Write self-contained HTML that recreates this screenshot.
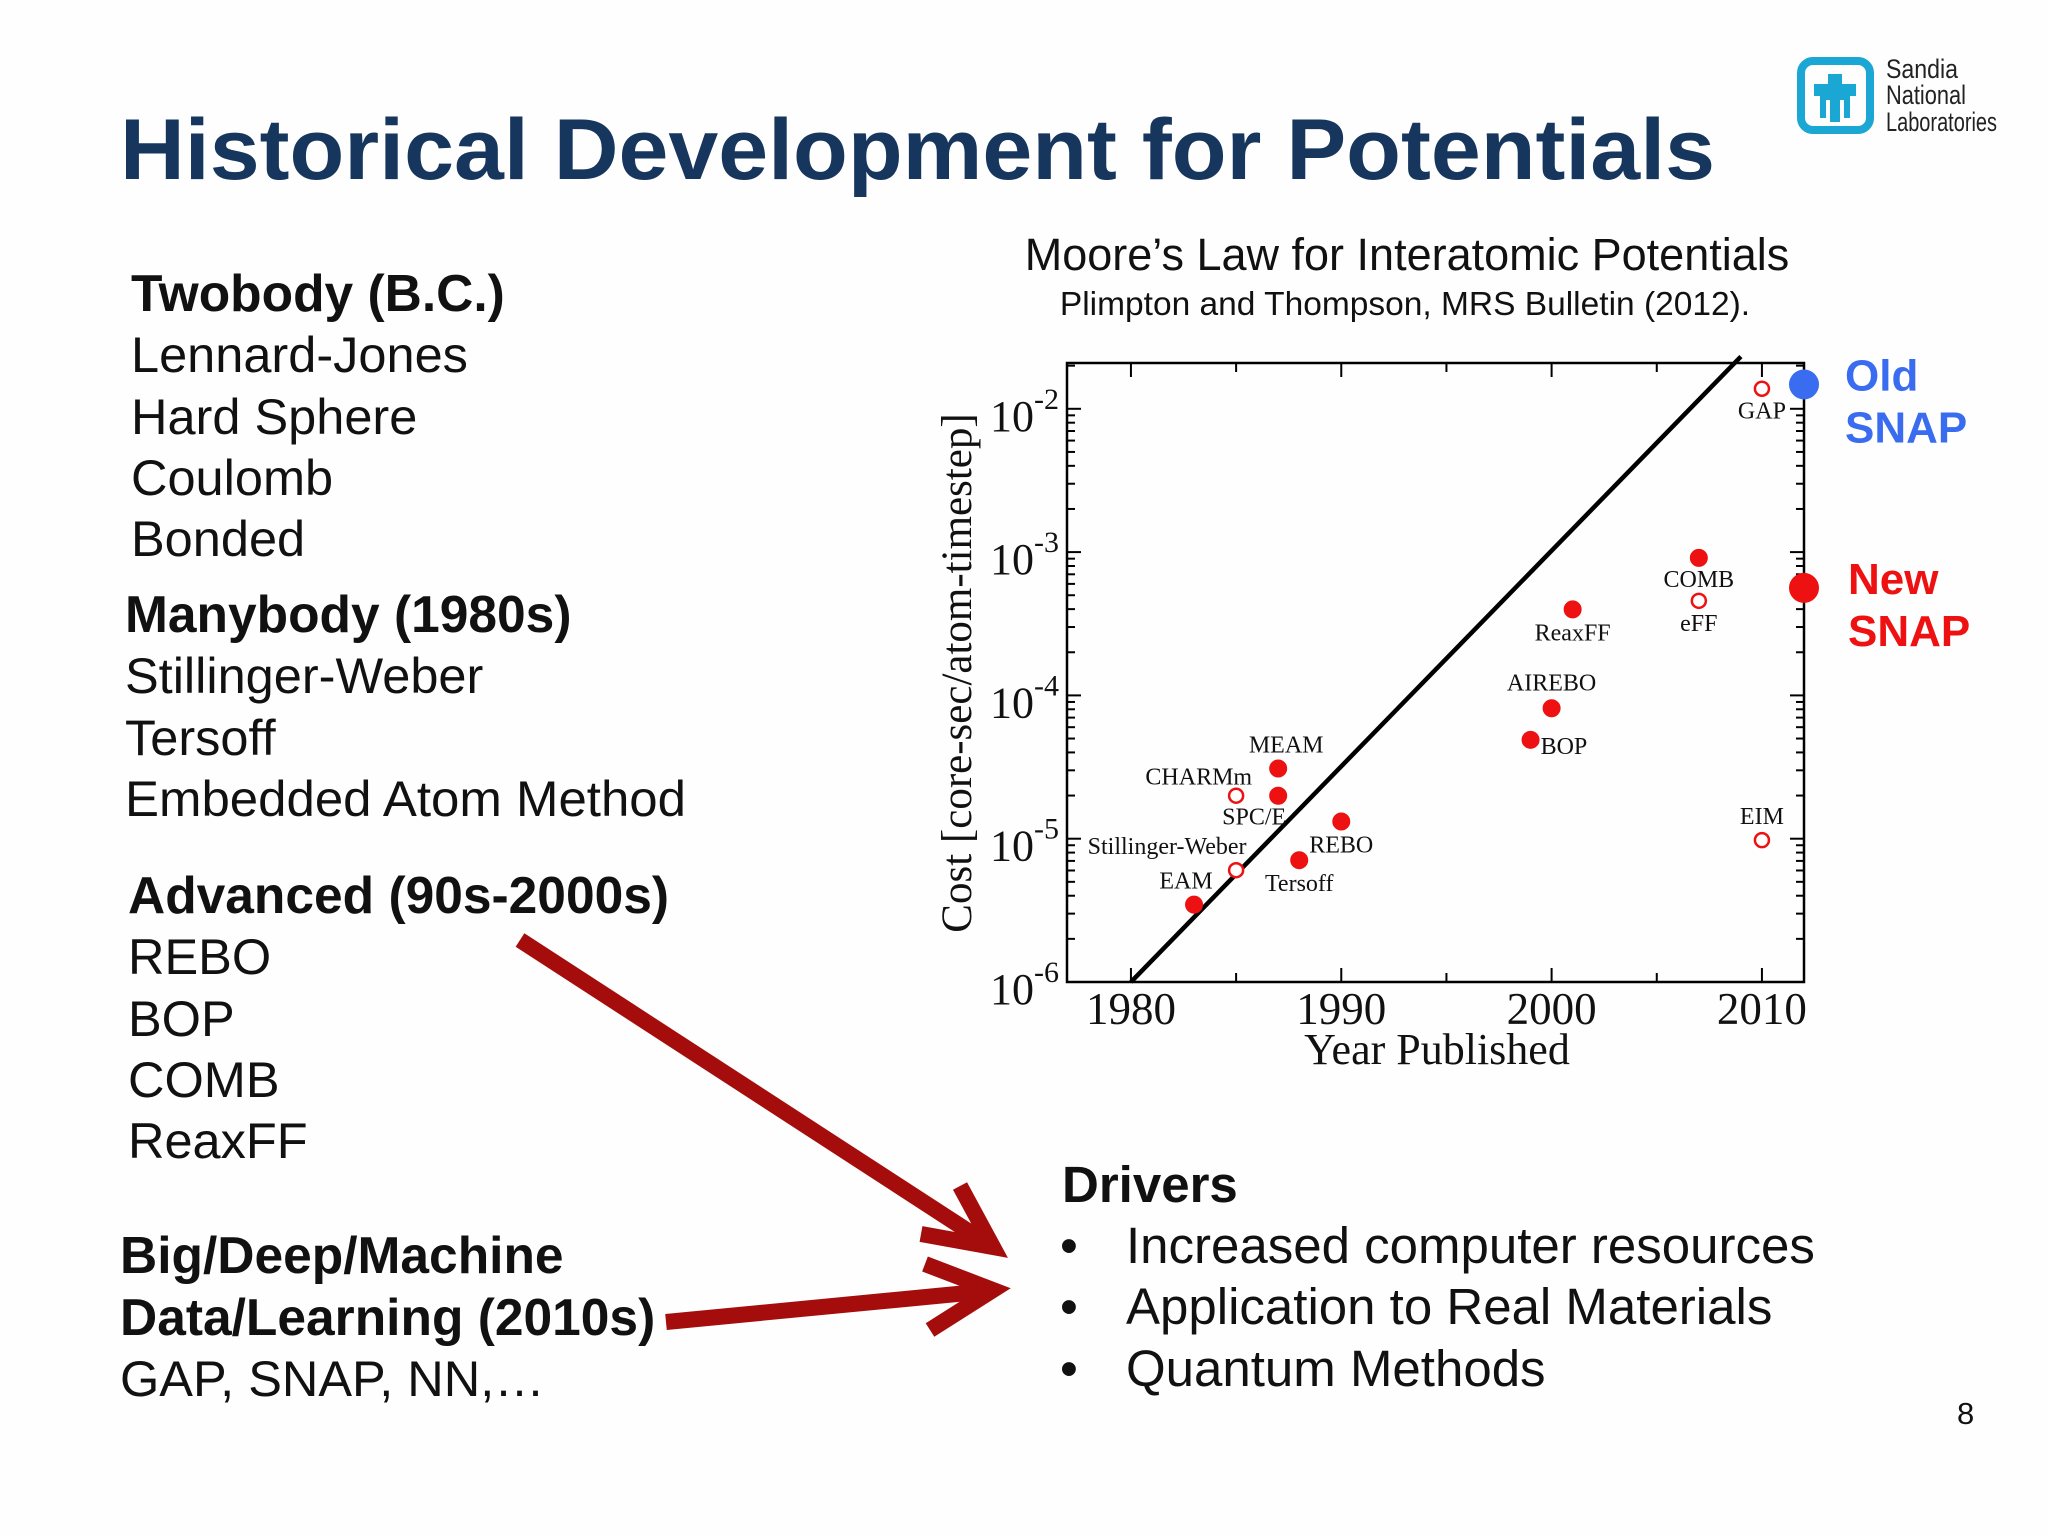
<!DOCTYPE html>
<html><head><meta charset="utf-8"><style>
html,body{margin:0;padding:0;background:#fff;}
svg{display:block;}
</style></head><body>
<svg id="slide" width="2048" height="1536" viewBox="0 0 2048 1536" xmlns="http://www.w3.org/2000/svg">
<rect width="2048" height="1536" fill="#fefefe"/>
<text x="120" y="179" font-family="Liberation Sans, sans-serif" font-weight="bold" font-size="86" fill="#17365d" textLength="1595" lengthAdjust="spacingAndGlyphs">Historical Development for Potentials</text>

<g>
<rect x="1801" y="61" width="69" height="69" rx="12" fill="none" stroke="#1ba7d4" stroke-width="8"/>
<path d="M1828 74 h14 v10 h14 v12 h-6 v22 h-6 v-18 h-4 v22 h-10 v-22 h-4 v18 h-6 v-22 h-6 v-12 h14 z" fill="#1ba7d4"/>
<g font-family="Liberation Sans, sans-serif" font-size="27" fill="#222">
<text x="1886" y="78" textLength="72" lengthAdjust="spacingAndGlyphs">Sandia</text>
<text x="1886" y="104" textLength="80" lengthAdjust="spacingAndGlyphs">National</text>
<text x="1886" y="131" textLength="111" lengthAdjust="spacingAndGlyphs">Laboratories</text>
</g></g>

<g font-family="Liberation Sans, sans-serif" font-size="50.5" fill="#111">
<text x="131" y="311" font-weight="bold" font-size="51.5">Twobody (B.C.)</text>
<text x="131" y="372">Lennard-Jones</text>
<text x="131" y="434">Hard Sphere</text>
<text x="131" y="495">Coulomb</text>
<text x="131" y="556">Bonded</text>
<text x="125" y="632" font-weight="bold" font-size="51.5">Manybody (1980s)</text>
<text x="125" y="693">Stillinger-Weber</text>
<text x="125" y="755">Tersoff</text>
<text x="125" y="816" textLength="561" lengthAdjust="spacingAndGlyphs">Embedded Atom Method</text>
<text x="128" y="913" font-weight="bold" font-size="51.5">Advanced (90s-2000s)</text>
<text x="128" y="974">REBO</text>
<text x="128" y="1036">BOP</text>
<text x="128" y="1097">COMB</text>
<text x="128" y="1158">ReaxFF</text>
<text x="120" y="1273" font-weight="bold" font-size="51.5">Big/Deep/Machine</text>
<text x="120" y="1335" font-weight="bold" font-size="51.5">Data/Learning (2010s)</text>
<text x="120" y="1396">GAP, SNAP, NN,…</text>
</g>

<g font-family="Liberation Sans, sans-serif" font-size="51" fill="#111">
<text x="1062" y="1202" font-weight="bold">Drivers</text>
<text x="1060" y="1263">•</text><text x="1126" y="1263">Increased computer resources</text>
<text x="1060" y="1324">•</text><text x="1126" y="1324">Application to Real Materials</text>
<text x="1060" y="1386">•</text><text x="1126" y="1386">Quantum Methods</text>
</g>
<text x="1957" y="1424" font-family="Liberation Sans, sans-serif" font-size="31" fill="#111">8</text>

<g stroke="#a50d0d" stroke-width="16" fill="none" stroke-linecap="butt">
<line x1="520" y1="940" x2="988" y2="1244"/>
<polyline points="921,1234 993,1247 960,1186" stroke-linejoin="miter"/>
<line x1="666" y1="1322" x2="988" y2="1291"/>
<polyline points="925,1264 993,1290 930,1330"/>
</g>

<text x="1407" y="270" text-anchor="middle" font-family="Liberation Sans, sans-serif" font-size="45" fill="#111">Moore’s Law for Interatomic Potentials</text>
<text x="1405" y="315" text-anchor="middle" font-family="Liberation Sans, sans-serif" font-size="33.5" fill="#111">Plimpton and Thompson, MRS Bulletin (2012).</text>

<g id="chart"></g>
</svg>
<script>
const names = ["GAP","COMB","eFF","ReaxFF","AIREBO","BOP","MEAM","SPC/E","CHARMm","REBO","Stillinger-Weber","Tersoff","EAM","EIM"];
const years = [2010,2007,2007,2001,2000,1999,1987,1987,1985,1990,1985,1988,1983,2010];
const logCost = [-1.86,-3.04,-3.34,-3.40,-4.09,-4.31,-4.51,-4.70,-4.70,-4.88,-5.22,-5.15,-5.46,-5.01];
const openMarker = [true,false,true,false,false,false,false,false,true,false,true,false,false,true];
const snapNames = ["Old SNAP","New SNAP"];
const snapLogCost = [-1.83,-3.25];
const xTicks = [1980,1990,2000,2010];
const yTicks = [-6,-5,-4,-3,-2];
const trendYears = [1980,2009];
const trendLogStart = -6;
const trendSlope = 0.1505;

const L=1067,R=1804,T=363,B=982;
const x0=1976.96,x1=2012;
const y0=-6,y1=-6+(B-T)/143.3;
const X=v=>L+(v-x0)/(x1-x0)*(R-L);
const Y=v=>B-(v-y0)/(y1-y0)*(B-T);
const NS="http://www.w3.org/2000/svg";
const g=document.getElementById('chart');
function mk(tag,attrs,parent){const e=document.createElementNS(NS,tag);for(const k in attrs)e.setAttribute(k,attrs[k]);(parent||g).appendChild(e);return e;}

const frame=mk('rect',{x:L,y:T,width:R-L,height:B-T,fill:'none',stroke:'#000','stroke-width':2.5});



for(let yr=1980;yr<=2010;yr+=5){
  const len=yr%10===0?14:9;
  mk('line',{x1:X(yr),x2:X(yr),y1:B,y2:B-len,stroke:'#000','stroke-width':2});
  mk('line',{x1:X(yr),x2:X(yr),y1:T,y2:T+len,stroke:'#000','stroke-width':2});
}
xTicks.forEach(v=>{
  const t=mk('text',{x:X(v),y:1024,'text-anchor':'middle','font-family':'Liberation Serif, serif','font-size':45,fill:'#111'});
  t.textContent=v;
  
  
});
for(let d=-6;d<=-2;d++){
  for(let m=1;m<=9;m++){
    const lv=d+Math.log10(m);
    if(lv>y1) break;
    const len=m===1?14:8;
    mk('line',{x1:L,x2:L+len,y1:Y(lv),y2:Y(lv),stroke:'#000','stroke-width':2});
    mk('line',{x1:R,x2:R-len,y1:Y(lv),y2:Y(lv),stroke:'#000','stroke-width':2});
  }
}
yTicks.forEach(v=>{
  const t=mk('text',{x:990,y:Y(v)+22,'font-family':'Liberation Serif, serif','font-size':44,fill:'#111'});
  t.textContent='10';
  const s=mk('tspan',{dy:-22,'font-size':30},t);s.textContent=String(v);
  
  
});
const xt=mk('text',{x:1437,y:1064,'text-anchor':'middle','font-family':'Liberation Serif, serif','font-size':44,fill:'#111'});
xt.textContent='Year Published';


const yt=mk('text',{x:0,y:0,'text-anchor':'middle','font-family':'Liberation Serif, serif','font-size':43,fill:'#111',transform:'translate(971,673) rotate(-90)'});
yt.textContent='Cost [core-sec/atom-timestep]';



const tl=mk('line',{x1:X(trendYears[0]),y1:Y(trendLogStart),x2:X(trendYears[1]),y2:Y(trendLogStart+(trendYears[1]-trendYears[0])*trendSlope),stroke:'#000','stroke-width':4.5});



const off={"GAP":[0,30,'middle'],"COMB":[0,29,'middle'],"eFF":[0,30,'middle'],"ReaxFF":[0,31,'middle'],"AIREBO":[0,-18,'middle'],"BOP":[10,14,'start'],"MEAM":[8,-16,'middle'],"SPC/E":[-24,29,'middle'],"CHARMm":[16,-11,'end'],"REBO":[0,31,'middle'],"Stillinger-Weber":[-69,-16,'middle'],"Tersoff":[0,31,'middle'],"EAM":[-8,-16,'middle'],"EIM":[0,-16,'middle']};
names.forEach((n,i)=>{
  const cx=X(years[i]),cy=Y(logCost[i]);
  const c=mk('circle',{cx:cx,cy:cy,r:openMarker[i]?7:8.5,fill:openMarker[i]?'#fff':'#ee1111',stroke:'#ee1111','stroke-width':openMarker[i]?2.5:1});
  
  
  const o=off[n];
  const t=mk('text',{x:cx+o[0],y:cy+o[1],'text-anchor':o[2],'font-family':'Liberation Serif, serif','font-size':24,fill:'#111'});
  t.textContent=n;
  
  
});
const snapCols=['#3a6cf0','#ee1111'];
snapNames.forEach((n,i)=>{
  const c=mk('circle',{cx:R,cy:Y(snapLogCost[i]),r:15,fill:snapCols[i]});
  
  
  const parts=n.split(' ');
  const t=mk('text',{x:1845+(i?3:0),y:Y(snapLogCost[i])+6,'font-family':'Liberation Sans, sans-serif','font-weight':'bold','font-size':44,fill:snapCols[i]});
  t.textContent=parts[0];
  const t2=mk('text',{x:1845+(i?3:0),y:Y(snapLogCost[i])+58,'font-family':'Liberation Sans, sans-serif','font-weight':'bold','font-size':44,fill:snapCols[i]});
  t2.textContent=parts[1];
  
  
  
  
});
</script>
</body></html>
